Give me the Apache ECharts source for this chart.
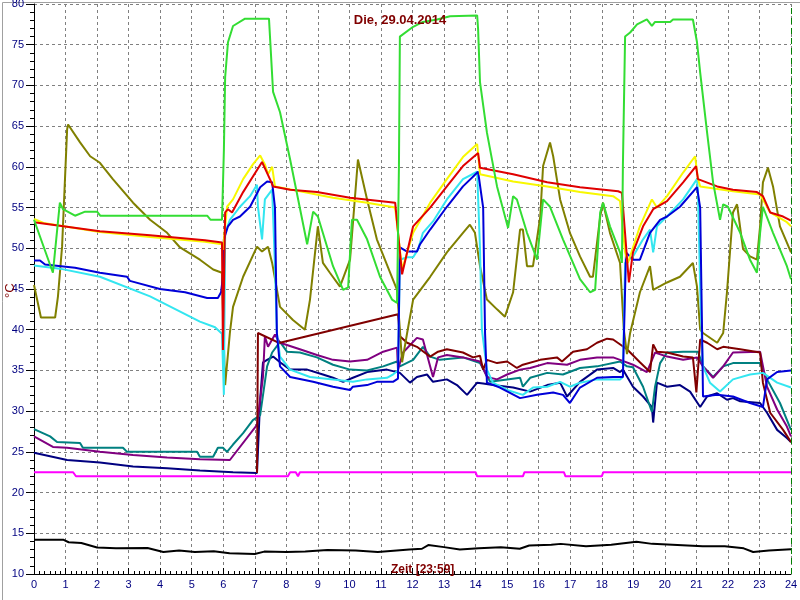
<!DOCTYPE html>
<html>
<head>
<meta charset="utf-8">
<script src="https://cdn.jsdelivr.net/npm/echarts@6/dist/echarts.min.js"></script>
<style>
html,body{margin:0;padding:0;background:#fff;}
#chart{width:800px;height:600px;}
</style>
</head>
<body>
<div id="chart"></div>
<script>
// ---- data: [hour, °C] ----
const titleText = 'Die, 29.04.2014';
const xName = 'Zeit [23:59]';
const yName = '°C';
const hourTicks = [0,1,2,3,4,5,6,7,8,9,10,11,12,13,14,15,16,17,18,19,20,21,22,23,24];

const green = [[0,53.5],[0.6,47],[0.82,55.6],[0.92,54.8],[1.3,54],[1.62,54.5],[2.0,54.5],[2.1,54],[5.49,54],[5.6,53.5],[5.96,53.5],[6.02,62],[6.06,71],[6.15,75.3],[6.31,77.3],[6.69,78.2],[7.45,78.2],[7.58,69.2],[7.80,66.7],[8.12,60.9],[8.66,50.5],[8.85,54.5],[9.0,53.9],[9.48,47.8],[9.80,44.9],[9.96,45.2],[10.08,53.5],[10.24,53.5],[10.56,51.1],[10.97,46.5],[11.35,43.7],[11.51,43.3],[11.57,60],[11.60,76],[12.02,77.2],[12.33,77.8],[12.78,78.1],[13.19,78.5],[14.05,78.6],[14.08,76.9],[14.14,70.4],[14.36,64.2],[14.68,57.6],[15.03,52.5],[15.19,56.4],[15.31,56],[15.63,51.9],[15.95,48.6],[16.14,56],[16.36,55.1],[16.77,51.1],[17.31,46.2],[17.63,44.6],[17.79,44.9],[17.95,54.4],[18.04,55.6],[18.26,52.7],[18.58,49.5],[18.64,48.2],[18.67,60],[18.74,76],[18.90,76.5],[19.12,77.5],[19.43,78.1],[19.59,77.3],[19.69,77.8],[20.17,77.8],[20.26,78.1],[20.89,78.1],[21.02,75.3],[21.12,71.6],[21.34,64.2],[21.53,58.1],[21.75,53.5],[21.85,55.4],[22.0,55.1],[22.39,51.9],[22.70,48.6],[22.92,47],[23.02,51.9],[23.11,55.1],[23.43,51.9],[23.87,47.8],[24,46.2]];

const yellow = [[0,53.6],[0.3,53.1],[2.09,52.0],[3.68,51.4],[5.42,50.8],[5.96,50.5],[5.99,49.8],[6.12,55.1],[6.31,56],[6.63,58.5],[6.94,60.3],[7.17,61.4],[7.32,60.3],[7.42,59.1],[7.55,60],[7.64,57.6],[8.43,57],[9.48,56.2],[10.56,55.6],[11.45,55],[11.51,54.8],[11.67,47.4],[12.02,51.9],[12.56,55.6],[13.09,58.5],[13.60,61.2],[14.05,62.8],[14.14,59.1],[15.19,58.2],[16.27,57.6],[17.31,56.9],[18.36,56.4],[18.58,55.8],[18.64,55.6],[18.74,49.5],[18.83,48.2],[19.21,52.7],[19.59,56],[19.75,55],[20.07,56.4],[20.58,59.3],[20.96,61.3],[21.05,58.5],[21.12,57.6],[22.16,57],[23.02,56.6],[23.34,54.4],[23.87,53.2],[24,52.7]];

const red = [[0,53.2],[2.09,52.1],[3.68,51.6],[5.42,51],[5.96,50.7],[5.99,37.5],[6.06,54.4],[6.15,54.8],[6.28,54.4],[6.63,56.9],[7.23,60.6],[7.48,58.5],[7.58,57.6],[8.12,57.2],[8.97,56.9],[10.02,56.2],[11.45,55.6],[11.51,55.4],[11.67,46.8],[12.02,52.7],[12.56,55],[13.09,57.6],[13.60,60.1],[14.08,61.7],[14.14,59.9],[15.19,59.1],[16.27,58.1],[17.31,57.5],[18.52,57],[18.64,56.8],[18.86,45.8],[18.99,49.5],[19.31,52.7],[19.63,54.8],[20.07,55.8],[20.58,58.1],[20.99,60.1],[21.05,58.5],[21.66,57.6],[22.16,57.2],[22.92,56.9],[23.11,56.4],[23.34,54.4],[23.75,53.9],[24,53.4]];

const cyan = [[0,47.9],[0.82,47.5],[2.09,46.5],[3.68,44.1],[5.26,41],[5.74,40.3],[5.96,39.5],[6.02,32],[6.06,51.9],[6.21,53.5],[6.53,55.1],[6.85,56.4],[7.07,57.8],[7.10,55.1],[7.23,51.1],[7.32,56],[7.55,57.2],[7.64,47.8],[7.70,39.6],[7.80,36.7],[8.12,35.1],[8.75,34.2],[9.48,33.9],[10.11,33.6],[10.56,33.9],[11.19,34.1],[11.38,34.5],[11.54,35],[11.60,48.6],[11.83,48.9],[12.02,48.9],[12.18,49.9],[12.33,51.9],[12.65,53.3],[13.09,56],[13.60,58.5],[14.05,59.4],[14.14,50],[14.20,40],[14.36,35.1],[14.55,33.5],[15.0,32.6],[15.50,32],[15.82,32.9],[16.27,33],[16.68,33.6],[16.99,33],[17.31,33.5],[17.85,33.9],[18.58,33.9],[18.67,34.2],[18.74,48.2],[18.99,49],[19.31,51.1],[19.53,52.3],[19.63,49.5],[19.75,52.7],[20.07,53.9],[20.58,56],[21.02,58.5],[21.05,56.9],[21.12,45],[21.18,38],[21.21,35.5],[21.43,33.5],[21.75,32.4],[22.16,33.9],[22.70,34.5],[23.11,34.7],[23.56,33.5],[24,32.9]];

const blue = [[0,48.5],[0.19,48.5],[0.35,48],[1.30,47.6],[2.09,47],[2.95,46.5],[3.04,46],[3.99,45],[4.79,44.6],[5.49,43.9],[5.83,43.9],[5.93,44.6],[5.99,46.5],[6.02,51.1],[6.15,52.7],[6.31,53.5],[6.53,53.9],[6.85,55.1],[7.17,57.5],[7.39,58.2],[7.55,58.1],[7.64,55],[7.70,39.6],[7.80,35.5],[8.12,34.2],[8.85,33.6],[9.48,33],[10.02,32.6],[10.11,33],[10.56,33.2],[10.87,33.6],[11.38,33.6],[11.54,34],[11.60,50.1],[11.83,49.6],[12.14,49.6],[12.24,50.5],[12.56,52.3],[13.09,55.1],[13.60,57.6],[14.08,59.4],[14.24,55],[14.30,39.6],[14.36,33.5],[14.77,32.9],[15.41,31.6],[15.95,32],[16.46,32.3],[16.77,32],[16.99,31],[17.31,32.9],[17.85,34.1],[18.36,34.2],[18.67,34.2],[18.77,49.5],[18.99,48.6],[19.21,48.6],[19.53,51.9],[19.85,53.5],[20.07,53.9],[20.48,55.1],[21.02,57.5],[21.12,55],[21.18,40],[21.21,31.8],[21.66,32],[22.16,31.8],[22.70,31],[23.11,30.5],[23.24,33.9],[23.56,34.8],[24,35]];

const olive = [[0,45.5],[0.22,41.5],[0.67,41.5],[0.76,44.1],[0.89,50.2],[1.05,64.6],[1.08,65.2],[1.46,63],[1.78,61.3],[2.09,60.5],[2.50,58.5],[3.14,55.6],[3.68,53.5],[4.22,51.9],[4.63,50.1],[5.26,48.6],[5.68,47.4],[5.96,47],[6.02,38],[6.06,33.2],[6.21,39.6],[6.31,42.8],[6.63,46.5],[7.07,50.2],[7.23,49.6],[7.42,50.2],[7.55,48.2],[7.80,42.8],[8.21,41.2],[8.59,40],[8.75,43.7],[9.0,52.7],[9.16,48.2],[9.38,47],[9.70,45.3],[10.02,48.6],[10.27,60.9],[10.56,56],[10.87,51.1],[11.29,47],[11.51,44.9],[11.60,40],[11.67,36],[11.83,39.6],[12.02,43.7],[12.56,46.5],[13.09,49.5],[13.60,51.9],[13.82,52.9],[13.98,51.9],[14.14,47.8],[14.36,43.7],[14.68,42.5],[14.93,41.6],[15.19,44.6],[15.41,52.3],[15.50,52.3],[15.63,47.8],[15.82,47.8],[16.05,53.9],[16.14,60.1],[16.36,63],[16.46,61.3],[16.68,56],[16.99,51.9],[17.31,49],[17.63,46.5],[17.72,46.5],[17.95,53.9],[18.04,55.6],[18.26,51.9],[18.58,48.2],[18.64,48.2],[18.70,40],[18.80,37],[18.90,39.6],[19.21,44.6],[19.53,47.8],[19.63,44.9],[20.07,45.8],[20.48,46.5],[20.89,48.2],[21.02,45.3],[21.12,40],[21.21,39.6],[21.66,38.4],[21.85,39.6],[21.97,44.6],[22.16,54.4],[22.29,55.4],[22.48,49.9],[22.70,49],[22.92,48.6],[23.02,52.7],[23.11,58.1],[23.27,59.9],[23.43,57.6],[23.65,52.7],[23.87,50.7],[24,49.5]];

const maroon = [[7.07,22.4],[7.10,39.6],[7.70,38.5],[7.80,38.4],[11.54,41.9],[11.60,39.2],[11.83,38.4],[12.14,37.9],[12.56,36.7],[12.81,37.3],[13.09,37.6],[13.60,37.2],[13.92,36.6],[14.14,36.8],[14.24,35.1],[14.36,36.3],[14.68,35.9],[15.0,36.1],[15.31,35.3],[15.50,35.7],[16.05,36.3],[16.58,36.6],[16.74,36.1],[17.09,37.3],[17.53,37.6],[17.85,38.4],[18.17,38.9],[18.36,38.8],[18.80,37.6],[19.21,36],[19.53,34.8],[19.63,38.2],[19.75,37.3],[20.07,37.2],[20.58,36.7],[20.89,36.6],[21.0,32.3],[21.12,38.8],[21.34,38.4],[21.66,37.6],[21.85,37.9],[22.39,37.6],[23.02,37.2],[23.11,33.5],[23.34,29.8],[23.75,27.7],[24,26.2]];

const purple = [[0,26.9],[0.60,25.6],[1.05,25.5],[2.09,25],[3.14,24.6],[4.22,24.3],[5.26,24.1],[6.21,24],[7.07,28.3],[7.26,34.2],[7.32,39.2],[7.42,37.9],[7.64,39.4],[7.80,38.4],[8.43,37.6],[8.97,36.9],[9.48,36.3],[10.02,36.1],[10.56,36.3],[11.07,37.3],[11.51,37.8],[11.54,35.1],[11.70,37.2],[12.14,39],[12.33,38.8],[12.65,34.2],[12.81,36.6],[13.09,36.9],[13.60,36.6],[14.14,36.1],[14.36,34.2],[14.68,33.9],[15.0,34.5],[15.41,35.1],[15.73,35.3],[16.27,35.9],[16.90,35.7],[17.31,36.3],[17.85,36.6],[18.36,36.6],[18.58,36.3],[18.99,35.7],[19.43,34.8],[19.69,37.2],[20.07,36.7],[20.58,36.3],[21.02,36.6],[21.21,35.5],[21.53,34.1],[21.85,35.5],[22.16,37.2],[23.02,37.3],[23.24,33],[23.56,30.2],[23.87,28.1],[24,26.9]];

const teal = [[0,27.8],[0.51,26.9],[0.73,26.2],[1.46,26.1],[1.55,25.5],[2.82,25.5],[2.95,25],[5.17,25],[5.26,24.4],[5.68,24.4],[5.83,25.5],[5.99,25.5],[6.12,25],[6.31,25.9],[6.63,27.3],[6.94,28.9],[7.17,29.5],[7.39,35.5],[7.55,37.2],[7.80,38.5],[8.02,37.3],[8.43,37.2],[8.97,36.6],[9.48,35.7],[10.02,35.1],[10.56,35],[11.07,35.5],[11.51,36.1],[11.60,35.5],[12.02,36.3],[12.33,37.9],[12.56,36.7],[12.87,36.3],[13.60,36.6],[14.14,35.9],[14.46,33.6],[15.0,33.9],[15.41,34.1],[15.50,33],[15.73,34.1],[16.27,34.7],[16.77,34.5],[17.31,35.3],[17.85,35.5],[18.58,36.1],[18.80,35.5],[18.99,35.4],[19.31,33],[19.59,29.9],[19.69,33],[19.85,35.9],[20.07,37.2],[20.58,37.3],[21.05,37.3],[21.21,35.5],[21.53,34.2],[21.85,35.5],[22.16,35.9],[23.02,35.9],[23.24,33.9],[23.65,31],[24,27.7]];

const navy = [[0,24.9],[1.05,24],[2.09,23.7],[3.14,23.2],[4.22,23],[5.26,22.7],[6.31,22.5],[7.07,22.4],[7.17,31.4],[7.26,36],[7.39,36.3],[7.58,36.7],[7.80,36],[8.12,35.1],[8.66,35.1],[9.16,34.5],[9.48,34.1],[9.80,33.6],[10.11,34.1],[10.56,34.8],[11.19,35.1],[11.60,34.7],[11.92,33.5],[12.14,34.2],[12.46,34.5],[12.65,33.6],[13.09,33.9],[13.41,33.2],[13.73,32],[14.05,33.5],[14.24,33.4],[14.55,33.2],[15.19,32.9],[15.73,32.4],[16.27,33.2],[16.68,33.5],[16.90,31.8],[17.31,33.6],[17.85,35.1],[18.36,35.3],[18.58,34.8],[18.67,35.1],[18.99,33],[19.31,31.8],[19.59,30.5],[19.63,28.6],[19.75,33.5],[20.07,33],[20.48,33.2],[20.80,32.4],[21.12,30.5],[21.34,31.8],[21.66,32.2],[21.97,31.4],[22.16,31.6],[22.39,31.2],[23.02,31],[23.24,29.8],[23.56,27.7],[23.87,26.7],[24,26.2]];

const magenta = [[0,22.5],[1.24,22.5],[1.33,22],[8.05,22],[8.12,22.5],[8.30,22.5],[8.37,22],[8.43,22.5],[14.0,22.5],[14.05,22],[15.5,22],[15.55,22.5],[16.8,22.5],[16.85,22],[18.0,22],[18.05,22.5],[24,22.5]];

const black = [[0,14.2],[0.94,14.2],[1.1,13.9],[1.5,13.8],[2.0,13.25],[2.6,13.15],[3.6,13.2],[4.1,12.7],[4.6,12.9],[5.1,12.7],[5.7,12.8],[6.2,12.55],[7.0,12.45],[7.3,12.75],[8.0,12.7],[8.6,12.75],[9.3,12.95],[10.2,12.9],[10.9,12.7],[11.9,13.0],[12.3,13.1],[12.5,13.55],[13.0,13.3],[13.5,13.0],[14.1,13.15],[14.8,13.28],[15.4,13.1],[15.7,13.5],[16.4,13.6],[16.7,13.7],[17.5,13.4],[18.3,13.6],[19.1,13.95],[19.6,13.7],[20.4,13.55],[21.2,13.4],[21.9,13.4],[22.5,13.15],[22.8,12.7],[23.3,12.9],[24,13.05]];

const nowHour = 24;

const seriesDefs = [
  {name:'black', data:black, color:'#000000'},
  {name:'magenta', data:magenta, color:'#ff00ff'},
  {name:'navy', data:navy, color:'#000080'},
  {name:'teal', data:teal, color:'#008080'},
  {name:'purple', data:purple, color:'#800080'},
  {name:'maroon', data:maroon, color:'#800000'},
  {name:'olive', data:olive, color:'#808000'},
  {name:'cyan', data:cyan, color:'#33e6f0'},
  {name:'blue', data:blue, color:'#0000d8'},
  {name:'yellow', data:yellow, color:'#f8f800'},
  {name:'red', data:red, color:'#e00000'},
  {name:'green', data:green, color:'#33dd33'}
];

const FONT = '"Liberation Sans Narrow", "Liberation Sans", Arial, sans-serif';
const chart = echarts.init(document.getElementById('chart'), null, {renderer:'canvas'});

const series = seriesDefs.map(s => ({
  name: s.name, type:'line', data: s.data, showSymbol:false, symbol:'none',
  lineStyle:{color:s.color, width:2}, itemStyle:{color:s.color},
  animation:false, silent:true, z: 3
}));
series[0].markLine = {
  silent:true, symbol:'none', label:{show:false},
  lineStyle:{color:'#008000', type:[6,4], width:1},
  data:[{xAxis: nowHour}]
};

chart.setOption({
  animation:false,
  backgroundColor:'#ffffff',
  title:{
    text: titleText, left: 'center', top: 9,
    textStyle:{color:'#800000', fontSize:13, fontWeight:'bold', fontFamily:FONT}
  },
  grid:{left:34, right:9, top:4, bottom:26, containLabel:false, outerBoundsMode:'none'},
  xAxis:{
    type:'value', min:0, max:24, interval:1,
    axisLine:{show:true, lineStyle:{color:'#000', width:1}},
    axisTick:{show:true, inside:true, length:6, lineStyle:{color:'#000'}},
    minorTick:{show:true, splitNumber:6, length:3, lineStyle:{color:'#000'}},
    axisLabel:{color:'#000080', fontSize:11, fontFamily:FONT, margin:5,
      customValues: hourTicks},
    splitLine:{show:true, lineStyle:{color:'#808080', type:[3,3], width:1}}
  },
  yAxis:{
    type:'value', min:10, max:80, interval:5,
    axisLine:{show:true, lineStyle:{color:'#000', width:1}},
    axisTick:{show:true, inside:false, length:8, lineStyle:{color:'#000'}},
    minorTick:{show:true, splitNumber:5, length:4, lineStyle:{color:'#000'}},
    axisLabel:{color:'#000080', fontSize:11, fontFamily:FONT, margin:10},
    splitLine:{show:true, lineStyle:{color:'#808080', type:[3,3], width:1}}
  },
  graphic:[
    {type:'text', left:391, top:564, z:10,
      style:{text:xName, fill:'#800000', font:'bold 12px '+FONT}},
    {type:'text', x:4, y:298, rotation:Math.PI/2, z:10,
      style:{text:yName, fill:'#800000', font:'13px '+FONT}},
    {type:'rect', left:0, top:0, z:-1, silent:true,
      shape:{x:0, y:0, width:799, height:599},
      style:{fill:'none', stroke:'#a0a0a0', lineWidth:1}}
  ],
  series: series
});
</script>
</body>
</html>
